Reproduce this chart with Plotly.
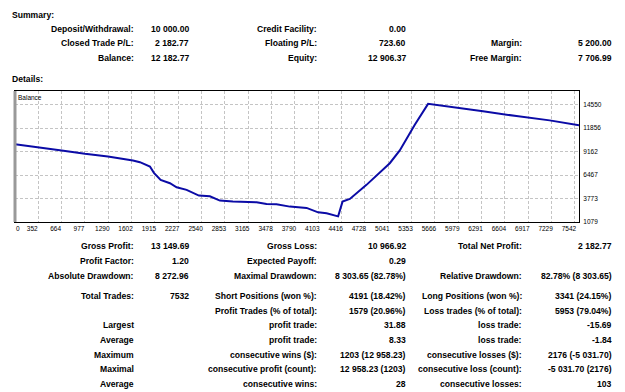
import plotly.graph_objects as go

# ---------------- data ----------------
trade_no = [40, 348, 665, 977, 1285, 1620, 1714, 1848, 1901, 1991, 2116, 2205, 2339,
            2504, 2651, 2785, 2959, 3276, 3410, 3544, 3722, 3946, 4101, 4214, 4369,
            4428, 4526, 4749, 5061, 5195, 5396, 5574, 5862, 6310, 6758, 7203, 7596]
balance = [10000, 9670, 9290, 8910, 8600, 8139, 7943, 7448, 6723, 5918, 5526, 5066, 4767,
           4110, 4030, 3535, 3420, 3339, 3155, 3109, 2844, 2695, 2188, 2073, 1727,
           3420, 3731, 5342, 7828, 9290, 12248, 14640, 14274, 13779, 13238, 12743, 12183]

x_ticks = [352, 664, 977, 1290, 1602, 1915, 2227, 2540, 2853, 3165, 3478, 3790, 4103,
           4416, 4728, 5041, 5353, 5666, 5979, 6291, 6604, 6917, 7229, 7542]
y_ticks = [1079, 3773, 6467, 9162, 11856, 14550]

summary_c1_labels = ["Deposit/Withdrawal:", "Closed Trade P/L:", "Balance:"]
summary_c1_values = ["10 000.00", "2 182.77", "12 182.77"]
summary_c2_labels = ["Credit Facility:", "Floating P/L:", "Equity:"]
summary_c2_values = ["0.00", "723.60", "12 906.37"]
summary_c3_labels = ["", "Margin:", "Free Margin:"]
summary_c3_values = ["", "5 200.00", "7 706.99"]

det_c1_labels = ["Gross Profit:", "Profit Factor:", "Absolute Drawdown:", "Total Trades:", "",
                 "Largest", "Average", "Maximum", "Maximal", "Average"]
det_c1_values = ["13 149.69", "1.20", "8 272.96", "7532", "", "", "", "", "", ""]
det_c2_labels = ["Gross Loss:", "Expected Payoff:", "Maximal Drawdown:", "Short Positions (won %):",
                 "Profit Trades (% of total):", "profit trade:", "profit trade:",
                 "consecutive wins ($):", "consecutive profit (count):", "consecutive wins:"]
det_c2_values = ["10 966.92", "0.29", "8 303.65 (82.78%)", "4191 (18.42%)", "1579 (20.96%)",
                 "31.88", "8.33", "1203 (12 958.23)", "12 958.23 (1203)", "28"]
det_c3_labels = ["Total Net Profit:", "", "Relative Drawdown:", "Long Positions (won %):",
                 "Loss trades (% of total):", "loss trade:", "loss trade:",
                 "consecutive losses ($):", "consecutive loss (count):", "consecutive losses:"]
det_c3_values = ["2 182.77", "", "82.78% (8 303.65)", "3341 (24.15%)", "5953 (79.04%)",
                 "-15.69", "-1.84", "2176 (-5 031.70)", "-5 031.70 (2176)", "103"]

# ---------------- layout helpers ----------------
W, H = 625, 392
L, R, T, B = 15, 46, 91, 170
PW, PH = W - L - R, H - T - B
FONT = "Liberation Sans"

annotations = []


def txt(s, px, py, anchor="right", bold=True, size=8.6):
    if not s:
        return
    annotations.append(dict(
        text=s, x=(px - L) / PW, y=(H - B - py) / PH, xref="paper", yref="paper",
        xanchor=anchor, yanchor="middle", showarrow=False, borderpad=0, borderwidth=0,
        font=dict(family=FONT, size=size, color="#000000", weight="bold" if bold else "normal")))


txt("Summary:", 12, 15, anchor="left")
sum_rows = [29, 43.3, 57.7]
for i, py in enumerate(sum_rows):
    txt(summary_c1_labels[i], 133.5, py)
    txt(summary_c1_values[i], 189, py)
    txt(summary_c2_labels[i], 316.5, py)
    txt(summary_c2_values[i], 406, py)
    txt(summary_c3_labels[i], 521.5, py)
    txt(summary_c3_values[i], 612, py)
txt("Details:", 12, 79, anchor="left")

det_rows = [246, 260.7, 275.7, 296, 310.7, 325, 340, 354.7, 369.3, 384]
for i, py in enumerate(det_rows):
    txt(det_c1_labels[i], 133.5, py)
    txt(det_c1_values[i], 189, py)
    txt(det_c2_labels[i], 316.5, py)
    txt(det_c2_values[i], 406, py)
    txt(det_c3_labels[i], 521.5, py)
    txt(det_c3_values[i], 612, py)

x_range = [40, 7596]
y_range = [1079, 16115]

# chart label and leftmost x label
txt("Balance", 17.5, 97.5, anchor="left", bold=False, size=6.5)
annotations.append(dict(text="0", x=x_range[0], xref="x", y=0, yref="paper", yshift=-6,
                        xanchor="left", yanchor="middle", showarrow=False, borderpad=0,
                        font=dict(family=FONT, size=6.5, color="#000000")))

fig = go.Figure()
fig.add_trace(go.Scatter(x=trade_no, y=balance, mode="lines",
                         line=dict(color="#0b0ba6", width=2), hoverinfo="skip"))

fig.update_layout(
    width=W, height=H, margin=dict(l=L, r=R, t=T, b=B, pad=0),
    paper_bgcolor="white", plot_bgcolor="white", showlegend=False,
    annotations=annotations,
    xaxis=dict(range=x_range, tickvals=x_ticks, ticktext=[str(v) for v in x_ticks],
               showgrid=True, gridcolor="#c4c4c4", griddash="3px,2px", gridwidth=1,
               showline=True, linecolor="#000000", linewidth=1, mirror=True,
               zeroline=False, ticks="", ticklabelshift=-6, ticklabelstandoff=0,
               tickfont=dict(family=FONT, size=6.5, color="#000000")),
    yaxis=dict(range=y_range, tickvals=y_ticks, ticktext=[str(v) for v in y_ticks],
               side="right", showgrid=True, gridcolor="#c4c4c4", griddash="3px,2px",
               gridwidth=1, showline=True, linecolor="#000000", linewidth=1, mirror=True,
               zeroline=False, ticks="", ticklabelstandoff=2,
               tickfont=dict(family=FONT, size=6.5, color="#000000")),
    shapes=[dict(type="line", xref="paper", yref="paper", x0=0, x1=0, y0=0, y1=1,
                 line=dict(color="#999999", width=3))],
)

fig.write_html("out.html")
